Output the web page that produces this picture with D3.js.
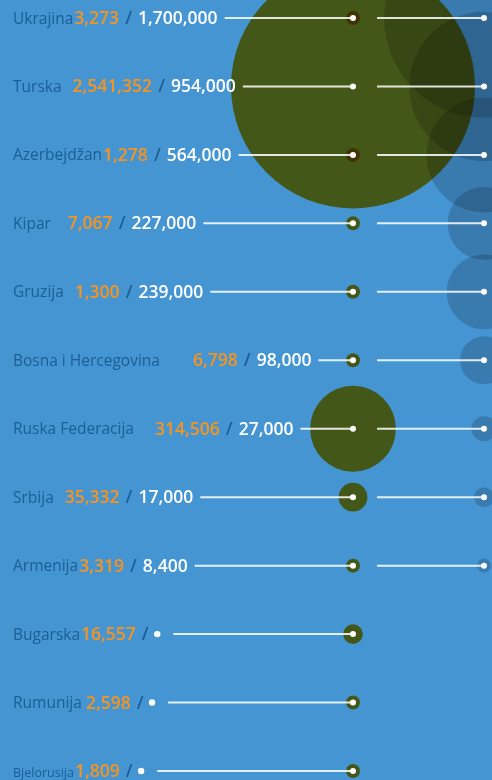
<!doctype html>
<html lang="en">
<head>
  <meta charset="utf-8">
  <style>
    body { margin: 0; background: #4595d3; }
    svg { display: block; }
    .multi { mix-blend-mode: multiply; }
  </style>
</head>
<body>
  <script src="https://d3js.org/d3.v7.min.js"></script>
  <div id="chart"></div>
  <script>
    // data
    var countries = ["Ukrajina", "Turska", "Azerbejdžan", "Kipar", "Gruzija", "Bosna i Hercegovina",
                     "Ruska Federacija", "Srbija", "Armenija", "Bugarska", "Rumunija", "Bjelorusija"];
    var orangeVals = [3273, 2541352, 1278, 7067, 1300, 6798, 314506, 35332, 3319, 16557, 2598, 1809];
    var whiteVals = [1700000, 954000, 564000, 227000, 239000, 98000, 27000, 17000, 8400, null, null, null];

    // layout
    var width = 492, height = 780;
    var greenX = 353, blueX = 484, rightStart = 377;
    // extra space between name and first number, per row (as in the picture)
    var nameGap = {"Turska": 10, "Kipar": 16, "Gruzija": 10, "Bosna i Hercegovina": 32,
                   "Ruska Federacija": 20, "Srbija": 10, "Rumunija": 3};
    var nameSize = {"Bjelorusija": 12.5};

    var rows = countries.map(function(c, i) {
      return {name: c, orange: orangeVals[i], white: whiteVals[i]};
    });

    var fmt = d3.format(",");

    var y = d3.scalePoint().domain(countries).range([18, 771]);
    var r = d3.scaleSqrt().domain([0, 2541352]).range([0, 122]);
    var rad = function(v) { return Math.max(7, r(v)); };

    var svg = d3.select("#chart").append("svg")
        .attr("width", width)
        .attr("height", height);

    svg.append("rect").attr("width", width).attr("height", height).attr("fill", "#4595d3");

    // blue circles (right column)
    svg.append("g").selectAll("circle")
      .data(rows.filter(function(d) { return d.white != null; }))
      .join("circle")
        .attr("cx", blueX)
        .attr("cy", function(d) { return y(d.name); })
        .attr("r", function(d) { return rad(d.white); })
        .attr("fill", "#000")
        .attr("fill-opacity", 0.17);

    // green circles
    svg.append("g").selectAll("circle")
      .data(rows)
      .join("circle")
        .attr("class", "multi")
        .attr("cx", greenX)
        .attr("cy", function(d) { return y(d.name); })
        .attr("r", function(d) { return rad(d.orange); })
        .attr("fill", "#f7941d");

    // labels
    var lab = svg.append("g").selectAll("g")
      .data(rows)
      .join("g")
        .attr("transform", function(d) { return "translate(13," + y(d.name) + ")"; });

    lab.each(function(d) {
      var g = d3.select(this);
      var name = g.append("text")
          .attr("y", 5.5)
          .attr("fill", "#1a5f96")
          .style("font-family", "'Open Sans', sans-serif")
          .style("font-size", (nameSize[d.name] || 15.5) + "px")
          .text(d.name);
      var x = name.node().getComputedTextLength() + 1 + (nameGap[d.name] || 0);

      var t = g.append("text")
          .attr("x", x)
          .attr("y", 6)
          .attr("xml:space", "preserve")
          .style("font-family", "'Open Sans', sans-serif")
          .style("font-size", "17.5px")
          .style("font-weight", 600);
      t.append("tspan").attr("fill", "#f7941d").text(fmt(d.orange));
      t.append("tspan").attr("fill", "#1a5f96").attr("dx", 1.5).text(" / ");
      if (d.white != null) t.append("tspan").attr("fill", "#fff").attr("dx", 1.5).text(fmt(d.white));
      var end = x + t.node().getComputedTextLength() + (d.white != null ? 3 : 1.5);

      var lineStart = end + 7;
      if (d.white == null) {
        g.append("circle").attr("cx", end + 4).attr("r", 3.2).attr("fill", "#fff");
        lineStart = end + 20;
      }
      g.append("line")
          .attr("x1", lineStart).attr("x2", greenX - 13)
          .attr("stroke", "#fff").attr("stroke-opacity", 0.85).attr("stroke-width", 2);
    });

    // right lines and centre dots
    var dots = svg.append("g");
    rows.forEach(function(d) {
      var cy = y(d.name);
      dots.append("circle").attr("cx", greenX).attr("cy", cy).attr("r", 3).attr("fill", "#fff");
      if (d.white != null) {
        dots.append("line")
            .attr("x1", rightStart).attr("x2", blueX)
            .attr("y1", cy).attr("y2", cy)
            .attr("stroke", "#fff").attr("stroke-opacity", 0.85).attr("stroke-width", 2);
        dots.append("circle").attr("cx", blueX).attr("cy", cy).attr("r", 3).attr("fill", "#fff");
      }
    });
  </script>
</body>
</html>
